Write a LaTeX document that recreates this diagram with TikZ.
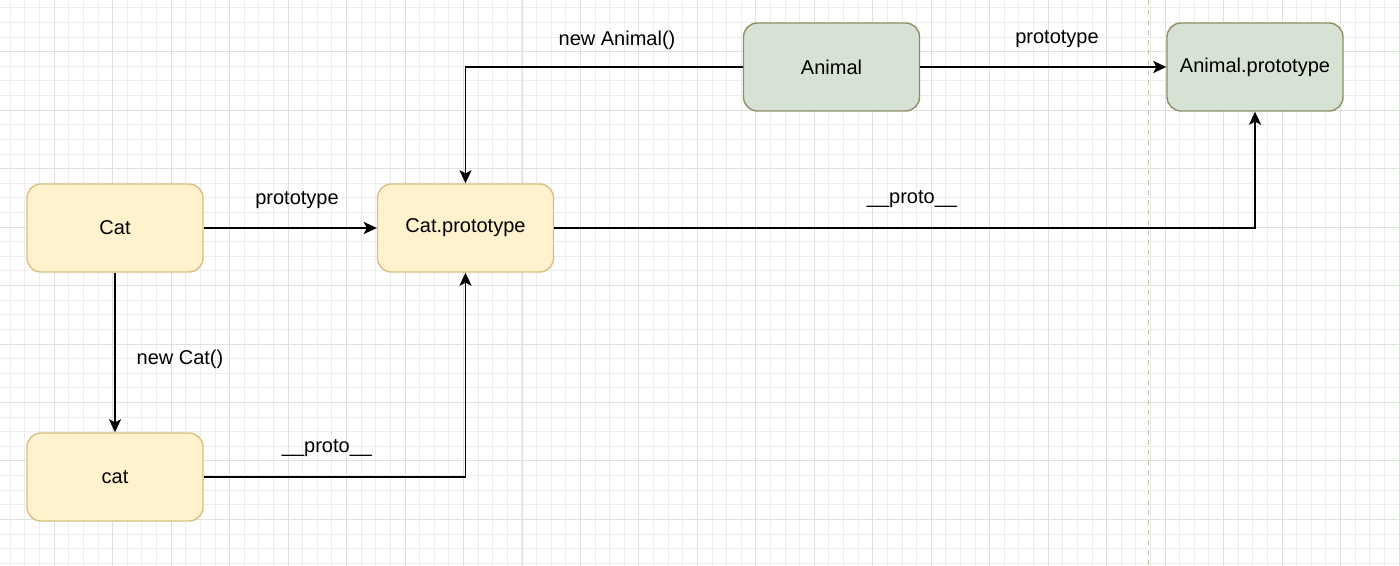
\documentclass[tikz,border=0pt]{standalone}
\usepackage{fontspec}
\setmainfont{Liberation Sans}
\usetikzlibrary{arrows.meta}
\definecolor{yfill}{HTML}{FFF2CC}
\definecolor{ydraw}{HTML}{D6C083}
\definecolor{gfill}{HTML}{D6E2D3}
\definecolor{gdraw}{HTML}{8E8E66}
\definecolor{minorc}{HTML}{ECECEC}
\definecolor{majorc}{HTML}{DDE2DC}
\definecolor{pagec}{HTML}{C2C6A2}
\tikzset{
  box/.style={rectangle, rounded corners=7pt, minimum width=88pt, minimum height=44pt, line width=0.7pt, font=\fontsize{10pt}{12pt}\selectfont, inner sep=0pt},
  ybox/.style={box, fill=yfill, draw=ydraw},
  gbox/.style={box, fill=gfill, draw=gdraw},
  conn/.style={line width=0.95pt, -{Stealth[length=6.5pt,width=6pt,inset=1.5pt]}},
  lbl/.style={font=\fontsize{10pt}{12pt}\selectfont, inner sep=0pt},
}
\begin{document}
\begin{tikzpicture}[x=0.5pt,y=-0.5pt]
\useasboundingbox (0,0) rectangle (1400,566);
\fill[white] (0,0) rectangle (1400,566);
% grid
\begin{scope}
\clip (0,0) rectangle (1400,566);
\foreach \i in {0,...,96} \draw[minorc, line width=0.5pt] ({10.38+\i*14.617},0) -- ({10.38+\i*14.617},566);
\foreach \i in {0,...,39} \draw[minorc, line width=0.5pt] (0,{7.85+\i*14.617}) -- (1400,{7.85+\i*14.617});
\foreach \i in {0,...,24} \draw[majorc, line width=0.5pt] ({54.23+\i*58.47},0) -- ({54.23+\i*58.47},566);
\foreach \i in {0,...,10} \draw[majorc, line width=0.5pt] (0,{51.7+\i*58.47}) -- (1400,{51.7+\i*58.47});
\draw[pagec, line width=0.7pt, dash pattern=on 2.5pt off 2.5pt] (1148.3,0) -- (1148.3,566);
\end{scope}
% nodes
\node[ybox] (Cat) at (115,228) {Cat};
\node[ybox] (CatP) at (465.5,228) {Cat.prototype};
\node[ybox] (cat) at (115,477) {cat};
\node[gbox] (Animal) at (831.5,67) {Animal};
\node[gbox] (AnimalP) at (1255,67) {Animal.prototype};
% connectors
\draw[conn] (Cat.east) -- (CatP.west);
\draw[conn] (Cat.south) -- (cat.north);
\draw[conn] (cat.east) -| (CatP.south);
\draw[conn] (Animal.west) -| (CatP.north);
\draw[conn] (Animal.east) -- (AnimalP.west);
\draw[conn] (CatP.east) -| (AnimalP.south);
% labels
\node[lbl] (l1) at (297,200) {prototype};
\node[lbl] (l2) at (180,359) {new Cat()};
\node[lbl] (l3) at (327,448) {\_\_proto\_\_};
\node[lbl] (l4) at (617,40) {new Animal()};
\node[lbl] (l5) at (1057,39) {prototype};
\node[lbl] (l6) at (912,199) {\_\_proto\_\_};
\end{tikzpicture}
\end{document}
